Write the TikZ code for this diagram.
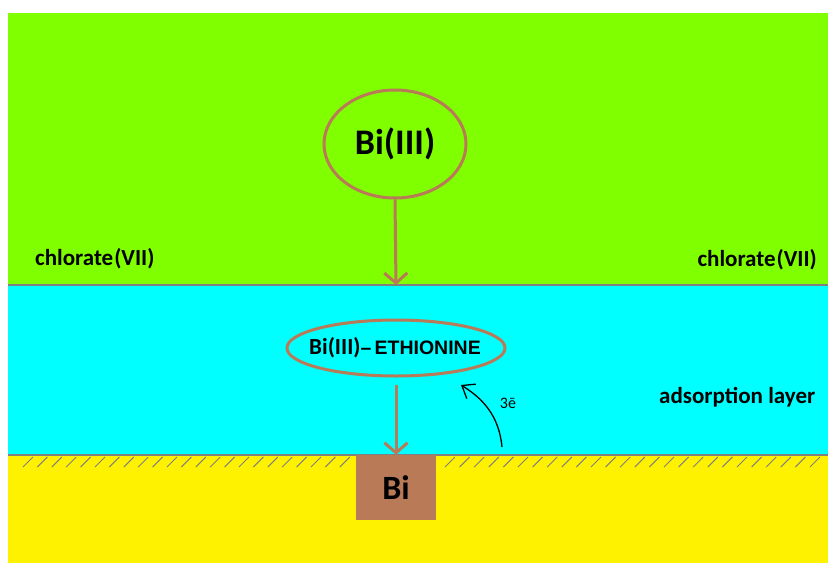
\documentclass[tikz,border=0pt]{standalone}
\usepackage{fontspec}
\setmainfont{Carlito}
\newfontfamily\arialfont{Liberation Sans}
\usetikzlibrary{arrows.meta,shapes.geometric}
\definecolor{limeg}{HTML}{80FF00}
\definecolor{cyanl}{HTML}{00FFFF}
\definecolor{yell}{HTML}{FFF200}
\definecolor{brwn}{HTML}{B97A57}
\definecolor{edgebr}{HTML}{B97A57}
\definecolor{grayl}{HTML}{808080}
\begin{document}
\begin{tikzpicture}[x=1pt,y=-1pt,
  layerlabel/.style={font=\bfseries\fontsize{23}{25}\selectfont, inner sep=0pt},
  brarrow/.style={draw=edgebr, line width=3pt, -{Straight Barb[length=10pt,width=23pt,line width=3pt]}},
  hatchline/.style={draw=grayl, line width=1pt}]
\useasboundingbox (0,0) rectangle (828,563);
\fill[white] (0,0) rectangle (828,563);
% layers
\fill[limeg] (8,13) rectangle (828,285);
\fill[cyanl] (8,285) rectangle (828,455);
\fill[yell] (8,455) rectangle (828,563);
\draw[grayl, line width=1.2pt] (8,285) -- (828,285);
\draw[grayl, line width=1.2pt] (8,455) -- (828,455);
% hatching
\foreach \k in {0,...,22} {
  \draw[hatchline] ({23+14.4*\k},467) -- ({33+14.4*\k},457);
}
\foreach \k in {0,...,25} {
  \draw[hatchline] ({445+14.6*\k},467) -- ({455+14.6*\k},457);
}
% Bi box
\node[fill=brwn, minimum width=80pt, minimum height=65pt, inner sep=0pt,
  font=\bfseries\fontsize{34}{36}\selectfont] (bi) at (396,487.5) {Bi};
% Bi(III) ellipse
\node[ellipse, draw=edgebr, line width=3pt, minimum width=142pt, minimum height=108pt,
  inner sep=0pt] (bi3) at (395,144) {};
\node[font=\bfseries\fontsize{36}{38}\selectfont, inner sep=0pt] (bi3t) at (bi3.center) {Bi(III)};
% complex ellipse
\node[ellipse, draw=edgebr, line width=3pt, minimum width=218pt, minimum height=56pt,
  inner sep=0pt] (cplx) at (396,348) {};
\node[inner sep=0pt] (cplxt) at (395,348)
  {\bfseries\fontsize{23}{25}\selectfont Bi(III){\arialfont\fontsize{19.5}{22}\selectfont\bfseries –\,ETHIONINE}};
\coordinate (bnd) at (396,285);
\coordinate (cplxbot) at (396,385);
\draw[brarrow] (bi3.south) -- (bnd);
\draw[brarrow] (cplxbot) -- (bi.north);
% labels
\node[layerlabel, anchor=west] (chl) at (35,259) {chlorate\kern1pt(VII)};
\node[layerlabel, anchor=east] (chr) at (817,260) {chlorate\kern1pt(VII)};
\node[layerlabel, anchor=west] (ads) at (659,397) {adsorption layer};
% electron arrow
\coordinate (estart) at (502,447);
\coordinate (etip) at (461,385);
\draw[black, line width=1.3pt, -{Straight Barb[length=11pt,width=17pt,line width=1.3pt]}]
  (estart) .. controls (499,415) and (482,398) .. (etip);
\node[font=\fontsize{16}{18}\selectfont, inner sep=0pt] (el) at (508,403) {3ē};
\end{tikzpicture}
\end{document}
